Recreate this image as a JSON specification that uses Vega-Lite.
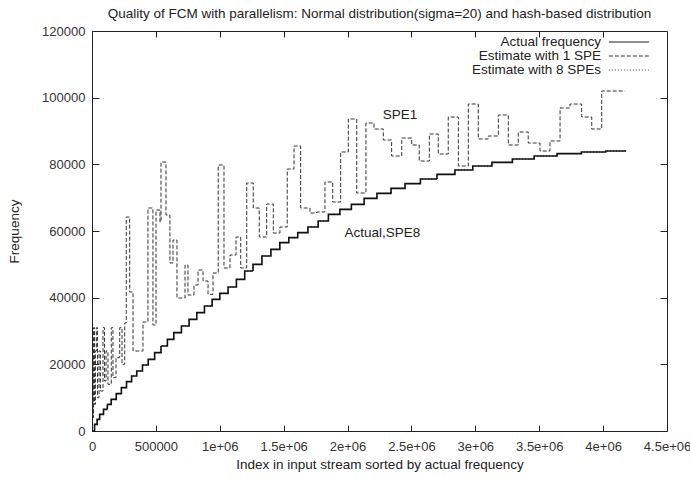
{
  "$schema": "https://vega.github.io/schema/vega-lite/v6.json",
  "width": 575,
  "height": 400,
  "autosize": {"type": "none"},
  "padding": {"left": 92, "top": 31, "right": 23, "bottom": 47},
  "background": "white",
  "title": {"text": "Quality of FCM with parallelism: Normal distribution(sigma=20) and hash-based distribution", "font": "Liberation Sans", "fontSize": 13.5, "fontWeight": "normal", "color": "#222", "offset": 5, "anchor": "middle"},
  "config": {
    "view": {"stroke": "#222", "strokeWidth": 1},
    "axis": {"labelFont": "Liberation Sans", "labelFontSize": 13, "labelColor": "#333", "titleFont": "Liberation Sans", "titleFontSize": 13.5, "titleFontWeight": "normal", "titleColor": "#222", "tickColor": "#222", "grid": false, "domain": false},
    "legend": {"orient": "none", "legendX": 530, "legendY": 4, "labelFont": "Liberation Sans", "labelFontSize": 13.5, "labelColor": "#222", "symbolType": "M-3.1,0H3.1", "symbolSize": 169, "labelAlign": "right", "labelOffset": -35, "rowPadding": 0, "symbolStrokeWidth": 1}
  },
  "datasets": {
    "lines": [
      {"s": "Actual frequency", "x": 0, "y": 0}, {"s": "Actual frequency", "x": 20000, "y": 2000}, {"s": "Actual frequency", "x": 40000, "y": 3500}, {"s": "Actual frequency", "x": 60000, "y": 5000}, {"s": "Actual frequency", "x": 90000, "y": 6500}, {"s": "Actual frequency", "x": 120000, "y": 8000}, {"s": "Actual frequency", "x": 150000, "y": 9500}, {"s": "Actual frequency", "x": 190000, "y": 11200}, {"s": "Actual frequency", "x": 230000, "y": 13000}, {"s": "Actual frequency", "x": 270000, "y": 14800}, {"s": "Actual frequency", "x": 310000, "y": 16500}, {"s": "Actual frequency", "x": 350000, "y": 18000}, {"s": "Actual frequency", "x": 395000, "y": 19800}, {"s": "Actual frequency", "x": 440000, "y": 21500}, {"s": "Actual frequency", "x": 490000, "y": 23500}, {"s": "Actual frequency", "x": 540000, "y": 25500}, {"s": "Actual frequency", "x": 590000, "y": 27500}, {"s": "Actual frequency", "x": 640000, "y": 29500}, {"s": "Actual frequency", "x": 700000, "y": 31500}, {"s": "Actual frequency", "x": 760000, "y": 33500}, {"s": "Actual frequency", "x": 820000, "y": 35500}, {"s": "Actual frequency", "x": 880000, "y": 37500}, {"s": "Actual frequency", "x": 940000, "y": 39500}, {"s": "Actual frequency", "x": 1000000, "y": 41300}, {"s": "Actual frequency", "x": 1065000, "y": 43200}, {"s": "Actual frequency", "x": 1130000, "y": 45500}, {"s": "Actual frequency", "x": 1195000, "y": 48000}, {"s": "Actual frequency", "x": 1260000, "y": 50000}, {"s": "Actual frequency", "x": 1330000, "y": 52500}, {"s": "Actual frequency", "x": 1400000, "y": 54500}, {"s": "Actual frequency", "x": 1470000, "y": 56500}, {"s": "Actual frequency", "x": 1540000, "y": 58000}, {"s": "Actual frequency", "x": 1610000, "y": 59500}, {"s": "Actual frequency", "x": 1690000, "y": 61200}, {"s": "Actual frequency", "x": 1770000, "y": 63000}, {"s": "Actual frequency", "x": 1850000, "y": 65000}, {"s": "Actual frequency", "x": 1940000, "y": 66500}, {"s": "Actual frequency", "x": 2030000, "y": 68000}, {"s": "Actual frequency", "x": 2130000, "y": 69800}, {"s": "Actual frequency", "x": 2230000, "y": 71300}, {"s": "Actual frequency", "x": 2340000, "y": 72800}, {"s": "Actual frequency", "x": 2450000, "y": 74200}, {"s": "Actual frequency", "x": 2570000, "y": 75600}, {"s": "Actual frequency", "x": 2700000, "y": 77000}, {"s": "Actual frequency", "x": 2840000, "y": 78300}, {"s": "Actual frequency", "x": 2980000, "y": 79500}, {"s": "Actual frequency", "x": 3130000, "y": 80600}, {"s": "Actual frequency", "x": 3290000, "y": 81600}, {"s": "Actual frequency", "x": 3460000, "y": 82500}, {"s": "Actual frequency", "x": 3640000, "y": 83200}, {"s": "Actual frequency", "x": 3830000, "y": 83700}, {"s": "Actual frequency", "x": 4020000, "y": 84000}, {"s": "Actual frequency", "x": 4180000, "y": 84000},
      {"s": "Estimate with 8 SPEs", "x": 0, "y": 0}, {"s": "Estimate with 8 SPEs", "x": 20000, "y": 2000}, {"s": "Estimate with 8 SPEs", "x": 40000, "y": 3500}, {"s": "Estimate with 8 SPEs", "x": 60000, "y": 5000}, {"s": "Estimate with 8 SPEs", "x": 90000, "y": 6500}, {"s": "Estimate with 8 SPEs", "x": 120000, "y": 8000}, {"s": "Estimate with 8 SPEs", "x": 150000, "y": 9500}, {"s": "Estimate with 8 SPEs", "x": 190000, "y": 11200}, {"s": "Estimate with 8 SPEs", "x": 230000, "y": 13000}, {"s": "Estimate with 8 SPEs", "x": 270000, "y": 14800}, {"s": "Estimate with 8 SPEs", "x": 310000, "y": 16500}, {"s": "Estimate with 8 SPEs", "x": 350000, "y": 18000}, {"s": "Estimate with 8 SPEs", "x": 395000, "y": 19800}, {"s": "Estimate with 8 SPEs", "x": 440000, "y": 21500}, {"s": "Estimate with 8 SPEs", "x": 490000, "y": 23500}, {"s": "Estimate with 8 SPEs", "x": 540000, "y": 25500}, {"s": "Estimate with 8 SPEs", "x": 590000, "y": 27500}, {"s": "Estimate with 8 SPEs", "x": 640000, "y": 29500}, {"s": "Estimate with 8 SPEs", "x": 700000, "y": 31500}, {"s": "Estimate with 8 SPEs", "x": 760000, "y": 33500}, {"s": "Estimate with 8 SPEs", "x": 820000, "y": 35500}, {"s": "Estimate with 8 SPEs", "x": 880000, "y": 37500}, {"s": "Estimate with 8 SPEs", "x": 940000, "y": 39500}, {"s": "Estimate with 8 SPEs", "x": 1000000, "y": 41300}, {"s": "Estimate with 8 SPEs", "x": 1065000, "y": 43200}, {"s": "Estimate with 8 SPEs", "x": 1130000, "y": 45500}, {"s": "Estimate with 8 SPEs", "x": 1195000, "y": 48000}, {"s": "Estimate with 8 SPEs", "x": 1260000, "y": 50000}, {"s": "Estimate with 8 SPEs", "x": 1330000, "y": 52500}, {"s": "Estimate with 8 SPEs", "x": 1400000, "y": 54500}, {"s": "Estimate with 8 SPEs", "x": 1470000, "y": 56500}, {"s": "Estimate with 8 SPEs", "x": 1540000, "y": 58000}, {"s": "Estimate with 8 SPEs", "x": 1610000, "y": 59500}, {"s": "Estimate with 8 SPEs", "x": 1690000, "y": 61200}, {"s": "Estimate with 8 SPEs", "x": 1770000, "y": 63000}, {"s": "Estimate with 8 SPEs", "x": 1850000, "y": 65000}, {"s": "Estimate with 8 SPEs", "x": 1940000, "y": 66500}, {"s": "Estimate with 8 SPEs", "x": 2030000, "y": 68000}, {"s": "Estimate with 8 SPEs", "x": 2130000, "y": 69800}, {"s": "Estimate with 8 SPEs", "x": 2230000, "y": 71300}, {"s": "Estimate with 8 SPEs", "x": 2340000, "y": 72800}, {"s": "Estimate with 8 SPEs", "x": 2450000, "y": 74200}, {"s": "Estimate with 8 SPEs", "x": 2570000, "y": 75600}, {"s": "Estimate with 8 SPEs", "x": 2700000, "y": 77000}, {"s": "Estimate with 8 SPEs", "x": 2840000, "y": 78300}, {"s": "Estimate with 8 SPEs", "x": 2980000, "y": 79500}, {"s": "Estimate with 8 SPEs", "x": 3130000, "y": 80600}, {"s": "Estimate with 8 SPEs", "x": 3290000, "y": 81600}, {"s": "Estimate with 8 SPEs", "x": 3460000, "y": 82500}, {"s": "Estimate with 8 SPEs", "x": 3640000, "y": 83200}, {"s": "Estimate with 8 SPEs", "x": 3830000, "y": 83700}, {"s": "Estimate with 8 SPEs", "x": 4020000, "y": 84000}, {"s": "Estimate with 8 SPEs", "x": 4180000, "y": 84000},
      {"s": "Estimate with 1 SPE", "x": 0, "y": 22000}, {"s": "Estimate with 1 SPE", "x": 8000, "y": 4000}, {"s": "Estimate with 1 SPE", "x": 12000, "y": 31000}, {"s": "Estimate with 1 SPE", "x": 20000, "y": 8000}, {"s": "Estimate with 1 SPE", "x": 27000, "y": 24000}, {"s": "Estimate with 1 SPE", "x": 34000, "y": 31000}, {"s": "Estimate with 1 SPE", "x": 43000, "y": 10000}, {"s": "Estimate with 1 SPE", "x": 55000, "y": 24000}, {"s": "Estimate with 1 SPE", "x": 66000, "y": 12000}, {"s": "Estimate with 1 SPE", "x": 86000, "y": 31000}, {"s": "Estimate with 1 SPE", "x": 98000, "y": 15000}, {"s": "Estimate with 1 SPE", "x": 110000, "y": 24000}, {"s": "Estimate with 1 SPE", "x": 125000, "y": 14000}, {"s": "Estimate with 1 SPE", "x": 151000, "y": 31000}, {"s": "Estimate with 1 SPE", "x": 164000, "y": 16000}, {"s": "Estimate with 1 SPE", "x": 188000, "y": 22000}, {"s": "Estimate with 1 SPE", "x": 217000, "y": 31000}, {"s": "Estimate with 1 SPE", "x": 235000, "y": 20000}, {"s": "Estimate with 1 SPE", "x": 256000, "y": 32400}, {"s": "Estimate with 1 SPE", "x": 268000, "y": 64200}, {"s": "Estimate with 1 SPE", "x": 295000, "y": 41700}, {"s": "Estimate with 1 SPE", "x": 321000, "y": 24000}, {"s": "Estimate with 1 SPE", "x": 399000, "y": 32700}, {"s": "Estimate with 1 SPE", "x": 438000, "y": 66900}, {"s": "Estimate with 1 SPE", "x": 477000, "y": 31800}, {"s": "Estimate with 1 SPE", "x": 501000, "y": 66300}, {"s": "Estimate with 1 SPE", "x": 532000, "y": 62700}, {"s": "Estimate with 1 SPE", "x": 540000, "y": 80700}, {"s": "Estimate with 1 SPE", "x": 579000, "y": 64800}, {"s": "Estimate with 1 SPE", "x": 610000, "y": 50400}, {"s": "Estimate with 1 SPE", "x": 634000, "y": 57300}, {"s": "Estimate with 1 SPE", "x": 665000, "y": 39900}, {"s": "Estimate with 1 SPE", "x": 728000, "y": 49800}, {"s": "Estimate with 1 SPE", "x": 751000, "y": 40800}, {"s": "Estimate with 1 SPE", "x": 798000, "y": 43800}, {"s": "Estimate with 1 SPE", "x": 830000, "y": 48300}, {"s": "Estimate with 1 SPE", "x": 869000, "y": 45000}, {"s": "Estimate with 1 SPE", "x": 908000, "y": 41000}, {"s": "Estimate with 1 SPE", "x": 947000, "y": 47400}, {"s": "Estimate with 1 SPE", "x": 988000, "y": 79800}, {"s": "Estimate with 1 SPE", "x": 1033000, "y": 48900}, {"s": "Estimate with 1 SPE", "x": 1080000, "y": 52800}, {"s": "Estimate with 1 SPE", "x": 1127000, "y": 58200}, {"s": "Estimate with 1 SPE", "x": 1164000, "y": 48900}, {"s": "Estimate with 1 SPE", "x": 1211000, "y": 74400}, {"s": "Estimate with 1 SPE", "x": 1262000, "y": 66900}, {"s": "Estimate with 1 SPE", "x": 1309000, "y": 58200}, {"s": "Estimate with 1 SPE", "x": 1367000, "y": 68100}, {"s": "Estimate with 1 SPE", "x": 1419000, "y": 59400}, {"s": "Estimate with 1 SPE", "x": 1471000, "y": 61200}, {"s": "Estimate with 1 SPE", "x": 1528000, "y": 78600}, {"s": "Estimate with 1 SPE", "x": 1581000, "y": 85500}, {"s": "Estimate with 1 SPE", "x": 1633000, "y": 66900}, {"s": "Estimate with 1 SPE", "x": 1706000, "y": 65400}, {"s": "Estimate with 1 SPE", "x": 1759000, "y": 65700}, {"s": "Estimate with 1 SPE", "x": 1823000, "y": 74700}, {"s": "Estimate with 1 SPE", "x": 1884000, "y": 68700}, {"s": "Estimate with 1 SPE", "x": 1946000, "y": 83700}, {"s": "Estimate with 1 SPE", "x": 2006000, "y": 93600}, {"s": "Estimate with 1 SPE", "x": 2072000, "y": 71400}, {"s": "Estimate with 1 SPE", "x": 2144000, "y": 92400}, {"s": "Estimate with 1 SPE", "x": 2207000, "y": 90600}, {"s": "Estimate with 1 SPE", "x": 2280000, "y": 87300}, {"s": "Estimate with 1 SPE", "x": 2345000, "y": 82500}, {"s": "Estimate with 1 SPE", "x": 2424000, "y": 87900}, {"s": "Estimate with 1 SPE", "x": 2502000, "y": 85800}, {"s": "Estimate with 1 SPE", "x": 2561000, "y": 81000}, {"s": "Estimate with 1 SPE", "x": 2640000, "y": 89100}, {"s": "Estimate with 1 SPE", "x": 2710000, "y": 83100}, {"s": "Estimate with 1 SPE", "x": 2788000, "y": 94200}, {"s": "Estimate with 1 SPE", "x": 2867000, "y": 79500}, {"s": "Estimate with 1 SPE", "x": 2945000, "y": 98100}, {"s": "Estimate with 1 SPE", "x": 3023000, "y": 87600}, {"s": "Estimate with 1 SPE", "x": 3101000, "y": 88500}, {"s": "Estimate with 1 SPE", "x": 3180000, "y": 94800}, {"s": "Estimate with 1 SPE", "x": 3258000, "y": 85800}, {"s": "Estimate with 1 SPE", "x": 3336000, "y": 89700}, {"s": "Estimate with 1 SPE", "x": 3414000, "y": 86400}, {"s": "Estimate with 1 SPE", "x": 3506000, "y": 84000}, {"s": "Estimate with 1 SPE", "x": 3584000, "y": 87000}, {"s": "Estimate with 1 SPE", "x": 3663000, "y": 96900}, {"s": "Estimate with 1 SPE", "x": 3741000, "y": 98100}, {"s": "Estimate with 1 SPE", "x": 3832000, "y": 94200}, {"s": "Estimate with 1 SPE", "x": 3911000, "y": 90600}, {"s": "Estimate with 1 SPE", "x": 3989000, "y": 102000}, {"s": "Estimate with 1 SPE", "x": 4171000, "y": 102000}
    ],
    "notes": [
      {"x": 2410000, "y": 94800, "t": "SPE1"},
      {"x": 2273000, "y": 59500, "t": "Actual,SPE8"}
    ]
  },
  "layer": [
    {
      "data": {"name": "lines"},
      "transform": [{"filter": "datum.s != 'Actual frequency'"}],
      "mark": {"type": "line", "interpolate": "step-after", "strokeWidth": 1},
      "encoding": {
        "x": {"field": "x", "type": "quantitative", "scale": {"domain": [0, 4500000], "nice": false}, "axis": {"orient": "bottom", "values": [0, 500000, 1000000, 1500000, 2000000, 2500000, 3000000, 3500000, 4000000, 4500000], "labelExpr": "datum.value < 1000000 ? '' + datum.value : (datum.value / 1000000) + 'e+06'", "title": "Index in input stream sorted by actual frequency", "tickSize": -6, "labelPadding": 15, "titlePadding": 4, "labelFlush": false}},
        "y": {"field": "y", "type": "quantitative", "scale": {"domain": [0, 120000], "nice": false}, "axis": {"orient": "left", "values": [0, 20000, 40000, 60000, 80000, 100000, 120000], "format": "d", "title": "Frequency", "tickSize": -7, "labelPadding": 14, "titlePadding": 20}},
        "color": {"field": "s", "type": "nominal", "title": null, "scale": {"domain": ["Actual frequency", "Estimate with 1 SPE", "Estimate with 8 SPEs"], "range": ["#111111", "#333333", "#444444"]}},
        "strokeDash": {"field": "s", "type": "nominal", "title": null, "scale": {"domain": ["Actual frequency", "Estimate with 1 SPE", "Estimate with 8 SPEs"], "range": [[1, 0], [4, 2], [1, 2]]}}
      }
    },
    {
      "data": {"name": "lines"},
      "transform": [{"filter": "datum.s == 'Actual frequency'"}],
      "mark": {"type": "line", "interpolate": "step-after", "strokeWidth": 1.6},
      "encoding": {
        "x": {"field": "x", "type": "quantitative", "axis": {"orient": "top", "values": [500000, 1000000, 1500000, 2000000, 2500000, 3000000, 3500000, 4000000], "labels": false, "title": null, "tickSize": -6}},
        "y": {"field": "y", "type": "quantitative", "axis": {"orient": "right", "values": [20000, 40000, 60000, 80000, 100000], "labels": false, "title": null, "tickSize": -7}},
        "color": {"field": "s", "type": "nominal", "title": null},
        "strokeDash": {"field": "s", "type": "nominal", "title": null}
      }
    },
    {
      "data": {"name": "notes"},
      "mark": {"type": "text", "font": "Liberation Sans", "fontSize": 13.5, "color": "#222"},
      "encoding": {
        "x": {"field": "x", "type": "quantitative", "axis": null},
        "y": {"field": "y", "type": "quantitative", "axis": null},
        "text": {"field": "t", "type": "nominal"}
      }
    }
  ],
  "resolve": {"axis": {"x": "independent", "y": "independent"}}
}
